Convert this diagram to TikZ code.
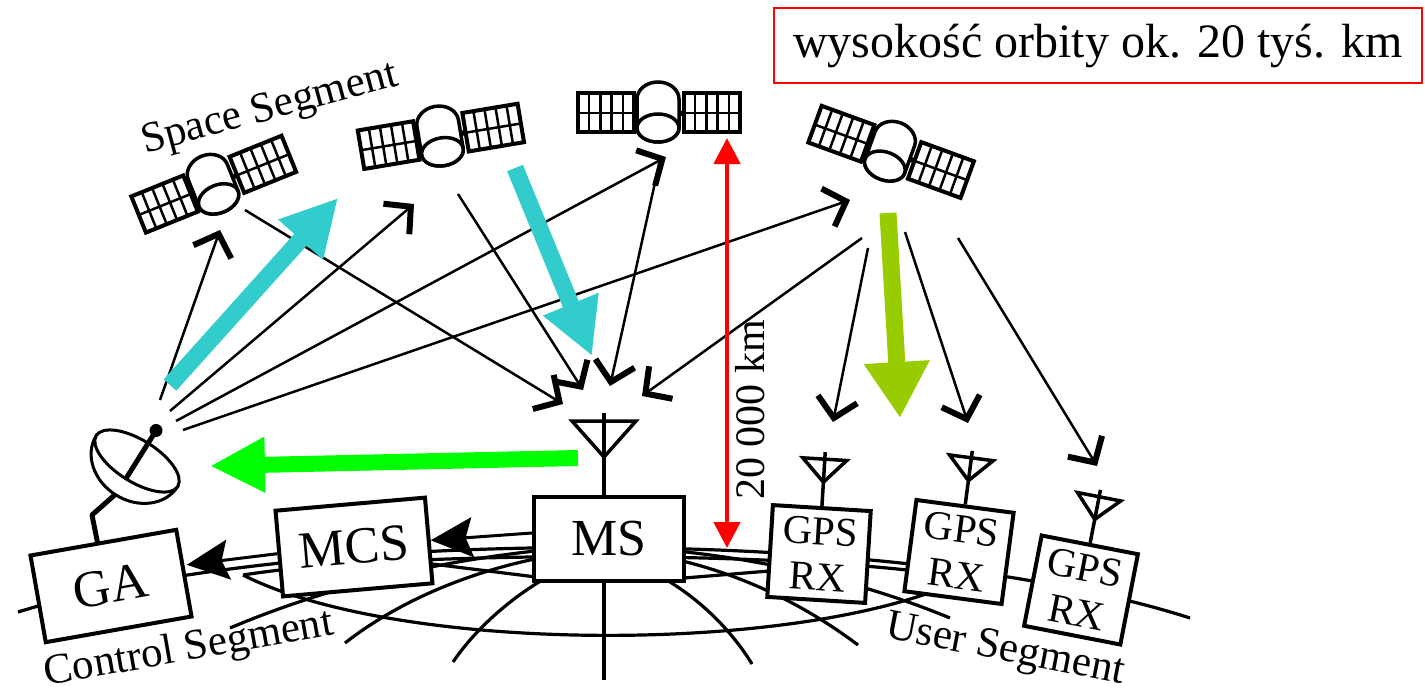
\documentclass[tikz,border=0pt]{standalone}
\usepackage{fontspec}
\setmainfont{Liberation Serif}
\usetikzlibrary{arrows.meta,calc}
\definecolor{beamcyan}{RGB}{51,204,204}
\definecolor{beamlime}{RGB}{153,204,0}
\definecolor{beamgreen}{RGB}{0,255,0}
\tikzset{
  sat/.pic={
    % arms between body and panels
    \draw[line width=5pt] (-26,0) -- (26,0);
    % solar panels, 5 x 2 cells each
    \foreach \px in {-80,26}{
      \draw[line width=4pt,fill=white] (\px,-20) rectangle ++(56,39);
      \draw[line width=2.5pt] (\px,0) -- ++(56,0)
        \foreach \k in {1,...,4}{ (\px+11.2*\k,-20) -- ++(0,39) };
    }
    % cylindrical body
    \draw[line width=3.5pt,fill=white] (-21,15) -- (-21,-14)
      arc[start angle=180,end angle=360,x radius=21,y radius=17] -- (21,15)
      arc[start angle=0,end angle=180,x radius=21,y radius=14] -- cycle;
    \draw[line width=3.5pt,fill=white] (0,15) ellipse[x radius=21,y radius=14];
  },
  rxant/.pic={
    \draw[line width=3.5pt] (0,0) -- (0,-54);
    \draw[line width=3.5pt] (-22,-47) -- (22,-47) -- (0,-24) -- cycle;
  }
}
\begin{document}
\begin{tikzpicture}[x=1pt,y=-1pt,
  globe/.style={line width=3.2pt},
  box/.style={draw,line width=4pt,fill=white,inner sep=0pt,
    minimum width=150pt,minimum height=86pt,font=\fontsize{52}{52}\selectfont},
  rxbox/.style={draw,line width=4pt,fill=white,inner sep=0pt,align=center,
    minimum width=98pt,minimum height=92pt,font=\fontsize{41}{46}\selectfont},
  link/.style={line width=2.5pt,-{Straight Barb[length=19pt,width=40pt,line width=6pt]}},
  relay/.style={line width=3pt,-{Stealth[length=42pt,width=40pt,inset=7pt]}},
  beam/.style={line width=17pt,-{Triangle[length=56pt,width=56pt]}},
  seg/.style={font=\fontsize{43}{43}\selectfont}
]
\useasboundingbox (0,0) rectangle (1425,693);

% ---- globe wireframe ----
\draw[globe] (18,612) .. controls (300,525) and (900,525) .. (1190,618);
\draw[globe] (243,575) .. controls (400,655) and (808,655) .. (965,578);
\draw[globe] (243,575) .. controls (400,550) and (808,550) .. (965,578);
\draw[globe] (604,560) -- (604,680);
\draw[globe] (585,560) .. controls (540,575) and (485,615) .. (453,662);
\draw[globe] (625,560) .. controls (680,580) and (725,620) .. (752,664);
\draw[globe] (575,552) .. controls (480,565) and (400,600) .. (345,643);
\draw[globe] (635,552) .. controls (730,565) and (805,605) .. (858,645);
\draw[globe] (565,548) .. controls (430,560) and (320,590) .. (230,628);
\draw[globe] (645,548) .. controls (770,558) and (870,585) .. (950,618);
\draw[globe] (392,559) -- (560,580);
\draw[globe] (830,566) -- (660,580);

% ---- dish mount ----
\draw[line width=5pt,line join=round] (118,492) -- (92,515) -- (98,545);

% ---- ground boxes ----
\node[box,rotate=10,minimum width=148pt,minimum height=88pt] (ga) at (111,586) {GA};
\node[box,rotate=5] (mcs) at (354,547) {MCS};
\node[box,minimum height=84pt] (ms) at (609,539) {MS};
\node[rxbox,rotate=-3.5] (rx1) at (819,554) {GPS\\RX};
\node[rxbox,rotate=-7.5] (rx2) at (959,552) {GPS\\RX};
\node[rxbox,rotate=-11] (rx3) at (1081,590) {GPS\\RX};

% ---- antennas ----
\coordinate (msfoot) at ($(ms.north)+(-5,0)$);
\draw[line width=3.5pt] (msfoot) -- ++(0,-82);
\draw[line width=3.5pt] ($(msfoot)+(-32,-74)$) -- ++(64,0) -- ($(msfoot)+(0,-38)$) -- cycle;
\pic[rotate=-3.5] at (rx1.north) {rxant};
\pic[rotate=-7.5] at (rx2.north) {rxant};
\pic[rotate=-11] at (rx3.north) {rxant};

% ---- ground antenna dish ----
\begin{scope}[shift={(137,461)},rotate=-32]
  \draw[line width=3pt,fill=white] (-48,0) arc[start angle=180,end angle=0,x radius=48,y radius=40] -- cycle;
  \draw[line width=3pt,fill=white] (0,0) ellipse[x radius=48,y radius=21];
  \draw[line width=5pt] (0,20) -- (0,-34);
  \fill (0,-36) circle[radius=6.5];
\end{scope}

% ---- satellites ----
\pic[rotate=22] at (213,185) {sat};
\pic[rotate=9.5] at (440,137) {sat};
\pic at (658,113) {sat};
\pic[rotate=-20] at (890,152) {sat};

% ---- uplinks from the dish ----
\coordinate (d1) at (160,400); \coordinate (u1) at (220,230);
\coordinate (d2) at (170,411); \coordinate (u2) at (414,204);
\coordinate (d3) at (176,421); \coordinate (u3) at (666,157);
\coordinate (d4) at (183,430); \coordinate (u4) at (850,200);
\draw[link] (d1) -- (u1);
\draw[link] (d2) -- (u2);
\draw[link] (d3) -- (u3);
\draw[link] (d4) -- (u4);

% ---- downlinks to the monitor station ----
\coordinate (s1) at (245,210); \coordinate (m1) at (563,404);
\coordinate (s2) at (458,194); \coordinate (m2) at (583,390);
\coordinate (s3) at (660,160); \coordinate (m3) at (610,386);
\coordinate (s4) at (862,238); \coordinate (m4) at (642,396);
\draw[link] (s1) -- (m1);
\draw[link] (s2) -- (m2);
\draw[link] (s3) -- (m3);
\draw[link] (s4) -- (m4);

% ---- downlinks to the user receivers ----
\coordinate (g1) at (868,248); \coordinate (r1) at (833,422);
\coordinate (g2) at (905,232); \coordinate (r2) at (968,423);
\coordinate (g3) at (958,238); \coordinate (r3) at (1097,466);
\draw[link] (g1) -- (r1);
\draw[link] (g2) -- (r2);
\draw[link] (g3) -- (r3);

% ---- ground links ----
\draw[relay] ($(ms.west)+(0,-6)$) -- (mcs.east);
\draw[relay] (mcs.west) -- ($(ga.east)+(1,-8)$);

% ---- data flow beams ----
\coordinate (c1a) at (170,385); \coordinate (c1b) at (338,198);
\coordinate (c2a) at (515,168); \coordinate (c2b) at (592,356);
\coordinate (la) at (888,213);  \coordinate (lb) at (900,418);
\coordinate (ga1) at (578,458); \coordinate (ga2) at (210,466);
\draw[beam,beamcyan] (c1a) -- (c1b);
\draw[beam,beamcyan] (c2a) -- (c2b);
\draw[beam,beamlime,-{Triangle[length=56pt,width=62pt]}] (la) -- (lb);
\draw[beam,beamgreen,line width=16pt,-{Triangle[length=55pt,width=52pt]}] (ga1) -- (ga2);

% ---- orbit height ----
\coordinate (htop) at (727,138); \coordinate (hbot) at (727,548);
\draw[red,line width=4.5pt,{Triangle[length=26pt,width=26pt]}-{Triangle[length=26pt,width=26pt]}] (htop) -- (hbot);
\node[rotate=90,font=\fontsize{42}{42}\selectfont] (hlabel) at (750,410) {20 000 km};

% ---- labels ----
\node[draw=red,line width=2pt,minimum width=648pt,minimum height=75pt,inner sep=0pt,
  font=\fontsize{48}{48}\selectfont] (orbit) at (1098,46) {wysokość orbity ok. 20 tyś. km};
\node[seg,rotate=15] (space) at (270,110) {Space Segment};
\node[seg,rotate=10] (control) at (189,650) {Control Segment};
\node[seg,rotate=-11] (user) at (1005,651) {User Segment};
\end{tikzpicture}
\end{document}
